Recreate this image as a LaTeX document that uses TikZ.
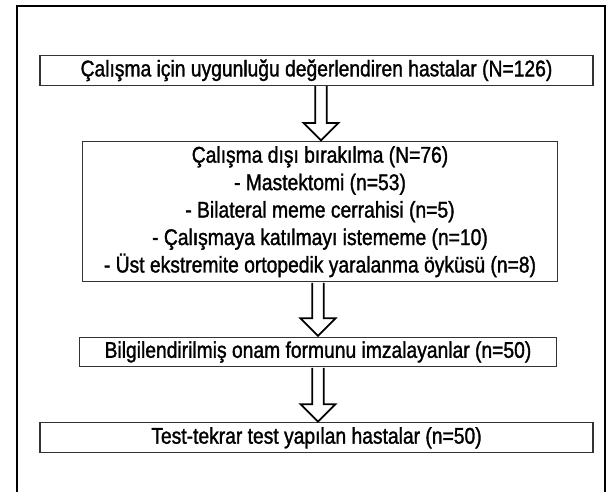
\documentclass[tikz,border=0pt]{standalone}
\usepackage{fontspec}
\setmainfont[FakeStretch=0.85,FakeBold=1.4]{Liberation Sans}
\usepackage{tikz}
\usetikzlibrary{calc}
\definecolor{bord}{HTML}{333333}

\begin{document}
\begin{tikzpicture}[x=0.75pt,y=-0.75pt,
  boite/.style={draw=bord,line width=0.8pt,inner sep=0pt,align=center,font=\fontsize{17}{20.6}\selectfont},
  fleche/.style={draw=black,line width=1.3pt,fill=white}]
  \useasboundingbox (0,0) rectangle (610,492);
  \draw[line width=1.3pt] (17,492) -- (17,6) -- (605,6) -- (605,492);
  \node[boite,minimum width=414.75pt,minimum height=22pt] (b1) at (316.5,70.4) {Çalışma için uygunluğu değerlendiren hastalar (N=126)};
  \node[boite,minimum width=356pt,minimum height=105pt] (b2) at (320,211.7) {Çalışma dışı bırakılma (N=76)\\- Mastektomi (n=53)\\- Bilateral meme cerrahisi (n=5)\\- Çalışmaya katılmayı istememe (n=10)\\- Üst ekstremite ortopedik yaralanma öyküsü (n=8)};
  \node[boite,minimum width=358pt,minimum height=22.3pt] (b3) at (318,352) {Bilgilendirilmiş onam formunu imzalayanlar (n=50)};
  \node[boite,minimum width=414.75pt,minimum height=22.3pt] (b4) at (316.5,437.8) {Test-tekrar test yapılan hastalar (n=50)};
  \foreach \a/\b/\d in {b1/b2/3.4,b2/b3/-1.5,b3/b4/0}
    \draw[fleche] let \p1=(\a.south), \p2=(\b.north) in
      ({\x1+(\d pt)-4.35pt},{\y1-0.4pt}) -- ({\x1+(\d pt)-4.35pt},{\y2+13.7pt}) -- ({\x1+(\d pt)-13.1pt},{\y2+13.7pt})
      -- ({\x1+(\d pt)},{\y2+0.6pt}) -- ({\x1+(\d pt)+13.1pt},{\y2+13.7pt}) -- ({\x1+(\d pt)+4.35pt},{\y2+13.7pt})
      -- ({\x1+(\d pt)+4.35pt},{\y1-0.4pt});
\end{tikzpicture}
\end{document}
